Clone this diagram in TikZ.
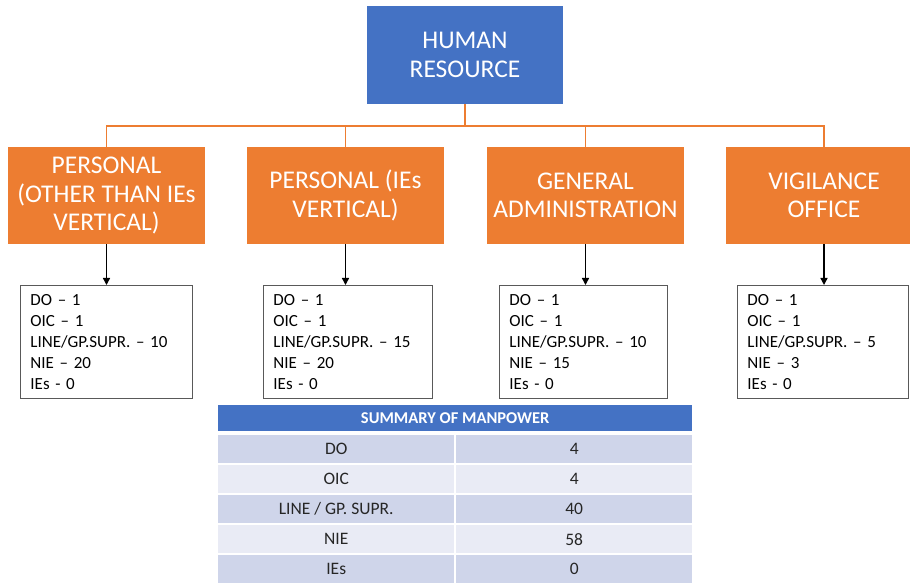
\documentclass[tikz,border=0pt]{standalone}
\usepackage{fontspec}
\setmainfont{Carlito}
\usetikzlibrary{arrows.meta}
\definecolor{hrblue}{HTML}{4472C4}
\definecolor{deptorange}{HTML}{ED7D31}
\definecolor{rowdark}{HTML}{CFD5EA}
\definecolor{rowlight}{HTML}{E9EBF5}
\begin{document}
\begin{tikzpicture}[x=1pt,y=-1pt,
  headbox/.style={fill=hrblue, text=white, align=center, minimum width=196pt,
    minimum height=98pt, inner sep=0pt, font=\fontsize{25.5}{29}\selectfont},
  deptbox/.style={fill=deptorange, text=white, align=center, minimum width=197pt,
    minimum height=97pt, inner sep=0pt, font=\fontsize{25.5}{28.5}\selectfont},
  listbox/.style={draw=black!65, line width=0.9pt, fill=white, align=left,
    anchor=north west, minimum height=113pt, inner xsep=10pt, inner ysep=0pt,
    text width=#1, font=\fontsize{17}{20.8}\selectfont},
  bus/.style={draw=deptorange, line width=1.4pt},
  down/.style={draw=black, line width=1.4pt, -{Triangle[length=7pt,width=7pt]}},
  tablehead/.style={fill=hrblue, text=white, anchor=north west, minimum width=474pt,
    minimum height=26pt, inner sep=0pt, font=\fontsize{16.5}{18}\selectfont\bfseries},
  cell/.style={fill=#1, anchor=north west, minimum width=236pt, minimum height=28pt,
    inner sep=0pt, text=black!85, font=\fontsize{17.5}{20}\selectfont}
]
\clip (0,0) rectangle (910,585);
\fill[white] (0,0) rectangle (910,585);

% top of the hierarchy
\node[headbox] (hr) at (465,55) {HUMAN\\RESOURCE};

% departments
\node[deptbox] (p1) at (106.5,195.5) {PERSONAL\\(OTHER THAN IEs\\VERTICAL)};
\node[deptbox] (p2) at (345.5,195.5) {PERSONAL (IEs\\VERTICAL)};
\node[deptbox] (p3) at (585.5,195.5) {GENERAL\\ADMINISTRATION};
\node[deptbox] (p4) at (824,195.5) {VIGILANCE\\OFFICE};

% orange bus joining the departments
\draw[bus] (hr.south) -- ++(0,22) coordinate (busmid);
\draw[bus] (p1.north) -- (p1.north |- busmid) -- (p4.north |- busmid) -- (p4.north);
\draw[bus] (p2.north) -- (p2.north |- busmid);
\draw[bus] (p3.north) -- (p3.north |- busmid);

% staff strength of each department
\node[listbox=152pt] (l1) at (20,285) {DO – 1\\OIC – 1\\LINE/GP.SUPR. – 10\\NIE – 20\\IEs - 0};
\node[listbox=149pt] (l2) at (263,285) {DO – 1\\OIC – 1\\LINE/GP.SUPR. – 15\\NIE – 20\\IEs - 0};
\node[listbox=148pt] (l3) at (499,285) {DO – 1\\OIC – 1\\LINE/GP.SUPR. – 10\\NIE – 15\\IEs - 0};
\node[listbox=151pt] (l4) at (737,285) {DO – 1\\OIC – 1\\LINE/GP.SUPR. – 5\\NIE – 3\\IEs - 0};

\draw[down] (p1.south) -- (p1.south |- l1.north);
\draw[down] (p2.south) -- (p2.south |- l2.north);
\draw[down] (p3.south) -- (p3.south |- l3.north);
\draw[down] (p4.south) -- (p4.south |- l4.north);

% summary table
\node[tablehead] (th) at (218,405) {SUMMARY OF MANPOWER};
\node[cell=rowdark]  (r1a) at (218,435) {DO};
\node[cell=rowdark]  (r1b) at (456,435) {4};
\node[cell=rowlight] (r2a) at (218,465) {OIC};
\node[cell=rowlight] (r2b) at (456,465) {4};
\node[cell=rowdark]  (r3a) at (218,495) {LINE / GP. SUPR.};
\node[cell=rowdark]  (r3b) at (456,495) {40};
\node[cell=rowlight] (r4a) at (218,525) {NIE};
\node[cell=rowlight] (r4b) at (456,525) {58};
\node[cell=rowdark]  (r5a) at (218,555) {IEs};
\node[cell=rowdark]  (r5b) at (456,555) {0};
\end{tikzpicture}
\end{document}
